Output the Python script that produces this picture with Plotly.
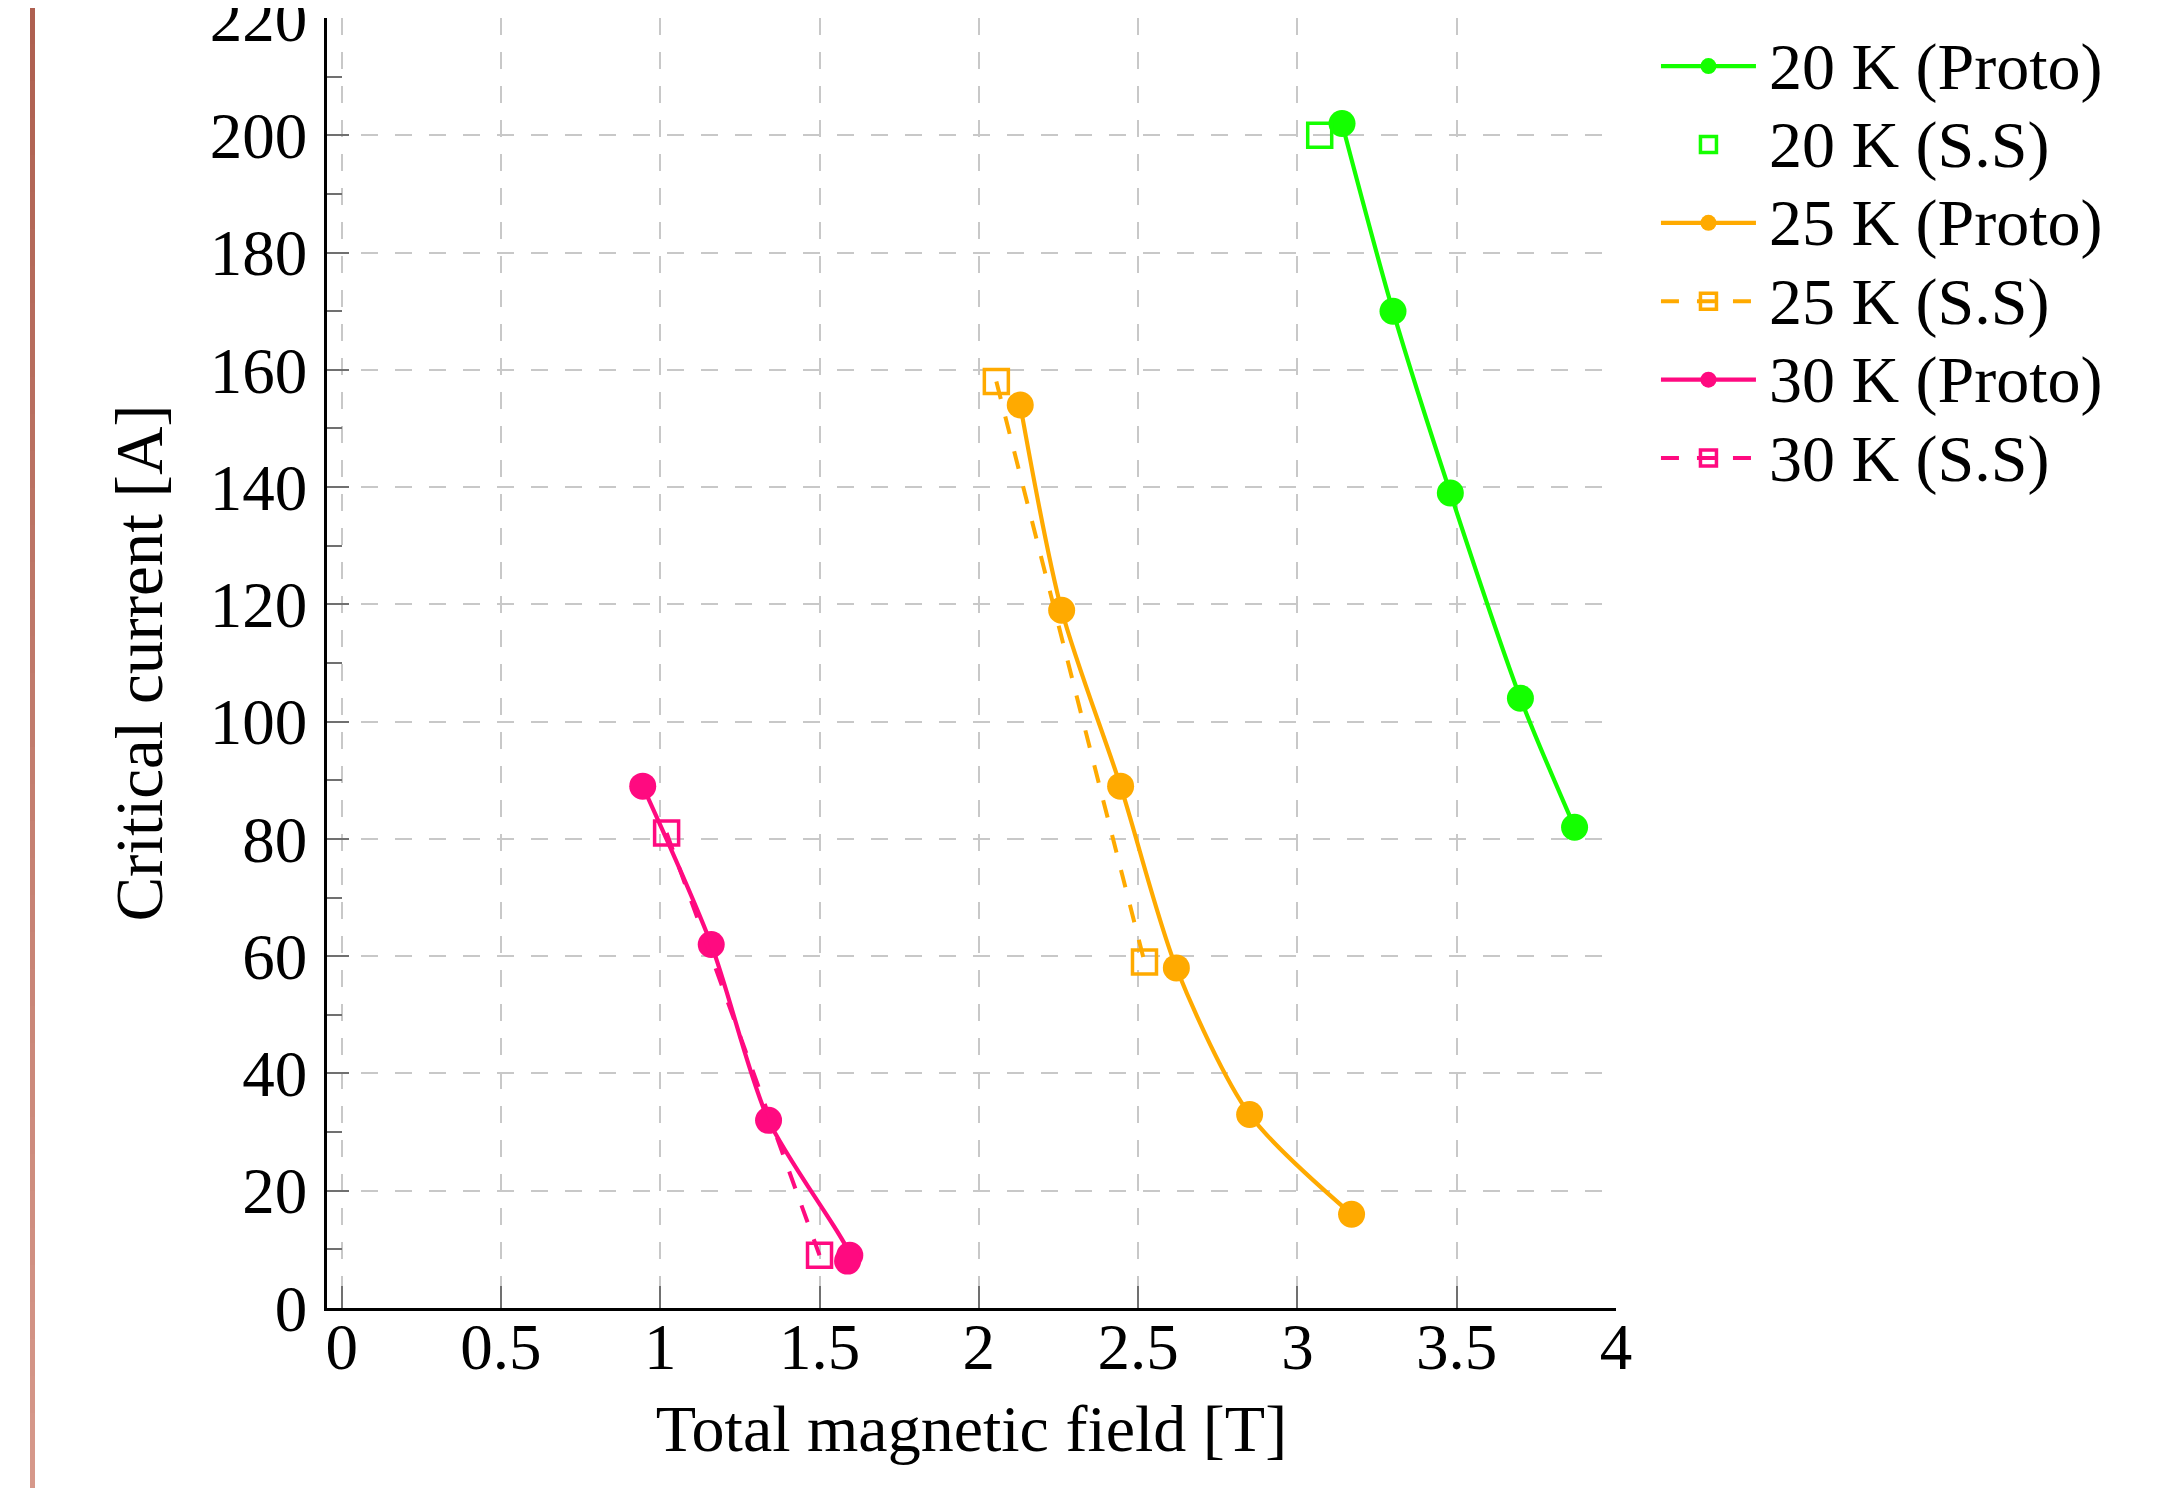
import plotly.graph_objects as go

# ---- data ----
b20_proto = [3.14, 3.30, 3.48, 3.70, 3.87]
i20_proto = [202, 170, 139, 104, 82]
b20_ss = [3.07]
i20_ss = [200]

b25_proto = [2.13, 2.26, 2.445, 2.62, 2.85, 3.17]
i25_proto = [154, 119, 89, 58, 33, 16]
b25_ss = [2.055, 2.52]
i25_ss = [158, 59]

b30_proto = [0.945, 1.16, 1.34, 1.595, 1.588]
i30_proto = [89, 62, 32, 9, 8]
b30_ss = [1.02, 1.50]
i30_ss = [81, 9]

x_ticks = [0, 0.5, 1, 1.5, 2, 2.5, 3, 3.5, 4]
y_ticks = list(range(0, 221, 20))

series_names = ["20 K (Proto)", "20 K (S.S)", "25 K (Proto)",
                "25 K (S.S)", "30 K (Proto)", "30 K (S.S)"]

GREEN = "#14ff00"
ORANGE = "#ffaa00"
PINK = "#ff0a80"
FONT = "Liberation Serif"
FS = 65

# page body has an 8px margin; figure sized so it fits the 2157x1496 window
W, H = 2141, 1480
L, R, T, B = 319, 533, 10, 180

def legend_label(s):
    return ('<span style="font-size:32px">\u00a0</span>'
            '<span style="font-size:66px">%s</span>' % s)

fig = go.Figure()

def proto(x, y, name, color):
    fig.add_trace(go.Scatter(
        x=x, y=y, name=legend_label(name), mode="lines+markers",
        line=dict(color=color, width=4.2, shape="spline", smoothing=0.8),
        marker=dict(symbol="circle", size=27, color=color),
    ))

def ss(x, y, name, color, lines=True):
    fig.add_trace(go.Scatter(
        x=x, y=y, name=legend_label(name), mode="lines+markers" if lines else "markers",
        line=dict(color=color, width=4.0, dash="18px,18px"),
        marker=dict(symbol="square-open", size=24, color=color,
                    line=dict(width=3.5, color=color)),
    ))

proto(b20_proto, i20_proto, series_names[0], GREEN)
ss(b20_ss, i20_ss, series_names[1], GREEN, lines=False)
proto(b25_proto, i25_proto, series_names[2], ORANGE)
ss(b25_ss, i25_ss, series_names[3], ORANGE)
proto(b30_proto, i30_proto, series_names[4], PINK)
ss(b30_ss, i30_ss, series_names[5], PINK)

# decorative vertical gradient bar at the left page edge
pw = W - L - R
ph = H - T - B
def px_to_paper_x(px):
    return (px - L) / pw
def px_to_paper_y(py):
    return (H - B - py) / ph
n = 40
c0 = (174, 96, 80)
c1 = (214, 152, 138)
shapes = []
for k in range(n):
    t = k / (n - 1)
    c = tuple(int(round(c0[i] + (c1[i] - c0[i]) * t)) for i in range(3))
    y0 = H * k / n - 1
    y1 = H * (k + 1) / n + 1
    shapes.append(dict(type="rect", xref="paper", yref="paper",
                       x0=px_to_paper_x(22), x1=px_to_paper_x(27),
                       y0=px_to_paper_y(y1), y1=px_to_paper_y(y0),
                       fillcolor="rgb(%d,%d,%d)" % c, line=dict(width=0),
                       layer="below"))

axis_common = dict(
    showline=True, linecolor="black", linewidth=2.5, mirror=False,
    zeroline=False,
    showgrid=True, gridcolor="#c8c8c8", gridwidth=2, griddash="17px,17px",
    ticks="inside", ticklen=22, tickwidth=2, tickcolor="#707070",
    tickfont=dict(family=FONT, size=FS, color="black"),
    ticklabeloverflow="allow",
)

fig.update_layout(
    width=W, height=H,
    margin=dict(l=L, r=R, t=T, b=B, autoexpand=False),
    paper_bgcolor="white", plot_bgcolor="white",
    font=dict(family=FONT, size=FS, color="black"),
    shapes=shapes,
    xaxis=dict(
        range=[-0.046, 4], tickvals=x_ticks,
        ticktext=[("%g" % v) for v in x_ticks],
        title=dict(text="Total magnetic field [T]", font=dict(family=FONT, size=66), standoff=24),
        ticklabelstandoff=-20,
        **axis_common,
    ),
    yaxis=dict(
        range=[0, 220], tickvals=y_ticks,
        title=dict(text="Critical current [A]", font=dict(family=FONT, size=67), standoff=26),
        ticklabelstandoff=4,
        minor=dict(dtick=10, ticks="inside", ticklen=15, tickwidth=2, tickcolor="#707070", showgrid=False),
        **axis_common,
    ),
    legend=dict(
        x=1.031, y=0.997, xanchor="left", yanchor="top",
        font=dict(family=FONT, size=58, color="black"),
        itemwidth=95, tracegroupgap=0, bgcolor="rgba(0,0,0,0)",
    ),
    showlegend=True,
)

fig.write_html("out.html")
